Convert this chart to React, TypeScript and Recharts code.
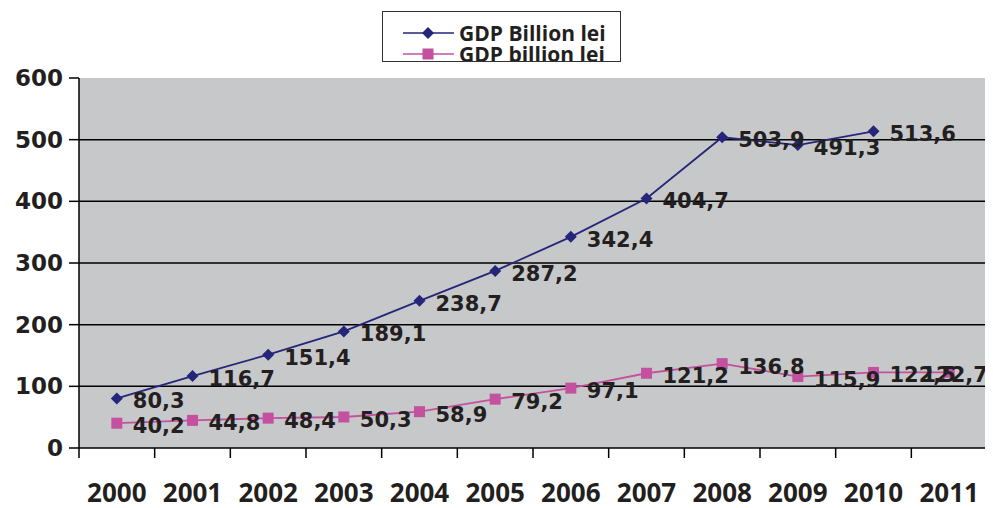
import React from "react";
import {
  LineChart,
  Line,
  XAxis,
  YAxis,
  CartesianGrid,
  ReferenceLine,
} from "recharts";

const years = ["2000", "2001", "2002", "2003", "2004", "2005", "2006", "2007", "2008", "2009", "2010", "2011"];
const gdpBillion = [80.3, 116.7, 151.4, 189.1, 238.7, 287.2, 342.4, 404.7, 503.9, 491.3, 513.6, null];
const gdpBillionLower = [40.2, 44.8, 48.4, 50.3, 58.9, 79.2, 97.1, 121.2, 136.8, 115.9, 122.5, 122.7];
const yTicks = [0, 100, 200, 300, 400, 500, 600];
const gridLines = [100, 200, 300, 400, 500];

const BLUE = "#25257a";
const PINK = "#c4519f";
const TEXT = "#231f20";
const NUM_FONT = "'DejaVu Sans', sans-serif";
const TXT_FONT = "'Open Sans', sans-serif";
const W = 993;
const H = 508;

const data = years.map((year, i) => ({
  idx: i,
  year,
  gdp: gdpBillion[i],
  gdp2: gdpBillionLower[i],
}));

// category boundaries, where the x-axis tick marks sit
const boundaries = [...years.map((_, i) => i - 0.5), years.length - 0.5];
const labelTicks = years.map((_, i) => i);

const fmt = (v: number) => v.toFixed(1).replace(".", ",");

const Diamond = ({ cx, cy, fill, r = 6 }: any) => (
  <polygon
    points={`${cx},${cy - r} ${cx + r},${cy} ${cx},${cy + r} ${cx - r},${cy}`}
    fill={fill}
  />
);

const Square = ({ cx, cy, fill, s = 5.5 }: any) => (
  <rect x={cx - s} y={cy - s} width={s * 2} height={s * 2} fill={fill} />
);

const ValueLabel = (props: any) => {
  const { x, y, value } = props;
  if (value == null || x == null) return null;
  const text = fmt(value);
  // rough width of the bold label, so the last one stays inside the picture
  const approxW = text.length * 13.5;
  const start = Math.min(x + 16, W - 4 - approxW);
  return (
    <text
      x={start}
      y={y + 3}
      dominantBaseline="central"
      fontFamily={NUM_FONT}
      fontWeight={700}
      fontSize={21}
      fill={TEXT}
    >
      {text}
    </text>
  );
};

const series = [
  { key: "gdp", name: "GDP Billion lei", color: BLUE, Marker: Diamond },
  { key: "gdp2", name: "GDP billion lei", color: PINK, Marker: Square },
];

const ChartLegend = () => (
  <div
    style={{
      position: "absolute",
      left: 382,
      top: 11,
      width: 237,
      height: 49,
      border: "1.5px solid #333",
      background: "#fff",
      overflow: "hidden",
    }}
  >
    {series.map((s, i) => (
      <div
        key={s.key}
        style={{
          position: "absolute",
          left: 0,
          top: 7 + i * 21,
          height: 28,
          display: "flex",
          alignItems: "center",
        }}
      >
        <svg width={76} height={28}>
          <line x1={20} x2={71} y1={14} y2={14} stroke={s.color} strokeWidth={1.5} />
          <s.Marker cx={45} cy={14} fill={s.color} />
        </svg>
        <span
          style={{
            fontFamily: TXT_FONT,
            fontWeight: 700,
            fontSize: 21,
            color: TEXT,
            lineHeight: "28px",
            whiteSpace: "nowrap",
          }}
        >
          {s.name}
        </span>
      </div>
    ))}
  </div>
);

export default function App() {
  return (
    <div style={{ position: "relative", width: W, height: H, margin: "-8px 0 0 -8px", background: "#fff" }}>
      <LineChart
        width={W}
        height={H}
        data={data}
        margin={{ top: 78, right: 6, left: 0, bottom: 0 }}
      >
        <CartesianGrid
          vertical={false}
          horizontalValues={gridLines}
          stroke="#000"
          strokeWidth={1.5}
          fill="#c7c8ca"
          fillOpacity={1}
        />
        <XAxis
          dataKey="idx"
          type="number"
          domain={[-0.5, years.length - 0.5]}
          ticks={boundaries}
          interval={0}
          tickFormatter={() => ""}
          tickSize={10}
          height={10}
          stroke="#000"
          strokeWidth={1.5}
          allowDataOverflow
        />
        <XAxis
          xAxisId="labels"
          dataKey="idx"
          type="number"
          domain={[-0.5, years.length - 0.5]}
          ticks={labelTicks}
          interval={0}
          tickFormatter={(i: number) => years[i]}
          axisLine={false}
          tickLine={false}
          tickSize={0}
          tickMargin={26}
          height={50}
          tick={{ fontFamily: TXT_FONT, fontSize: 26, fontWeight: 700, fill: TEXT }}
          allowDataOverflow
        />
        <YAxis
          domain={[0, 600]}
          ticks={yTicks}
          interval={0}
          width={79}
          tickSize={10}
          tickMargin={6}
          stroke="#000"
          strokeWidth={1.5}
          tick={{ fontFamily: NUM_FONT, fontSize: 23, fontWeight: 700, fill: TEXT }}
        />
        <ReferenceLine x={years.length - 0.5} stroke="#8d8d8d" strokeWidth={1.5} />
        {series.map((s) => (
          <Line
            key={s.key}
            dataKey={s.key}
            name={s.name}
            stroke={s.color}
            strokeWidth={1.8}
            isAnimationActive={false}
            dot={(p: any) =>
              p.cx == null || p.value == null ? (
                <g key={p.index} />
              ) : (
                <s.Marker key={p.index} cx={p.cx} cy={p.cy} fill={s.color} />
              )
            }
            activeDot={false}
            label={<ValueLabel />}
          />
        ))}
      </LineChart>
      <ChartLegend />
    </div>
  );
}
